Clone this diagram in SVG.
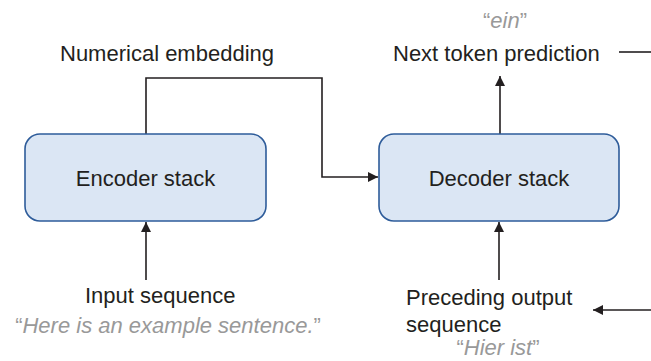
<svg xmlns="http://www.w3.org/2000/svg" width="651" height="361" viewBox="0 0 651 361">
<style>
.box{fill:#dbe6f4;stroke:#2e5c9a;stroke-width:1.6}
.lbl{font-family:"Liberation Sans",Arial,sans-serif;font-size:22px;fill:#231f20}
.ex{font-family:"Liberation Sans",Arial,sans-serif;font-size:22px;fill:#999999;font-style:italic}
.q{font-style:normal}
.ln{fill:none;stroke:#231f20;stroke-width:1.6}
</style>
<defs>
<marker id="ah" viewBox="0 0 10 10" refX="10" refY="5" markerWidth="10" markerHeight="10" markerUnits="userSpaceOnUse" orient="auto">
<path d="M0,0 L10,5 L0,10 z" fill="#231f20"/>
</marker>
</defs>
<g id="connectors">
<path class="ln" d="M146,134 V78 H322 V177 H378" marker-end="url(#ah)"/>
<path class="ln" d="M500,134 V76" marker-end="url(#ah)"/>
<path class="ln" d="M146,280 V222" marker-end="url(#ah)"/>
<path class="ln" d="M499,280 V222" marker-end="url(#ah)"/>
<path class="ln" d="M619,52 H651"/>
<path class="ln" d="M651,310 H593" marker-end="url(#ah)"/>
</g>
<g id="encoder">
<rect class="box" x="25" y="134" width="241" height="87" rx="15"/>
<text class="lbl" x="145.5" y="186" text-anchor="middle">Encoder stack</text>
</g>
<g id="decoder">
<rect class="box" x="379" y="134" width="240" height="87" rx="15"/>
<text class="lbl" x="499" y="186" text-anchor="middle">Decoder stack</text>
</g>
<g id="numerical-embedding">
<text class="lbl" x="167" y="61" text-anchor="middle">Numerical embedding</text>
</g>
<g id="next-token">
<text class="ex" x="505" y="28" text-anchor="middle"><tspan class="q">“</tspan>ein<tspan class="q">”</tspan></text>
<text class="lbl" x="393" y="61">Next token prediction</text>
</g>
<g id="input-sequence">
<text class="lbl" x="85" y="303">Input sequence</text>
<text class="ex" x="168" y="333" text-anchor="middle"><tspan class="q">“</tspan>Here is an example sentence.<tspan class="q">”</tspan></text>
</g>
<g id="preceding-output">
<text class="lbl" x="406" y="305">Preceding output</text>
<text class="lbl" x="406" y="332">sequence</text>
<text class="ex" x="498" y="355" text-anchor="middle"><tspan class="q">“</tspan>Hier ist<tspan class="q">”</tspan></text>
</g>
</svg>
